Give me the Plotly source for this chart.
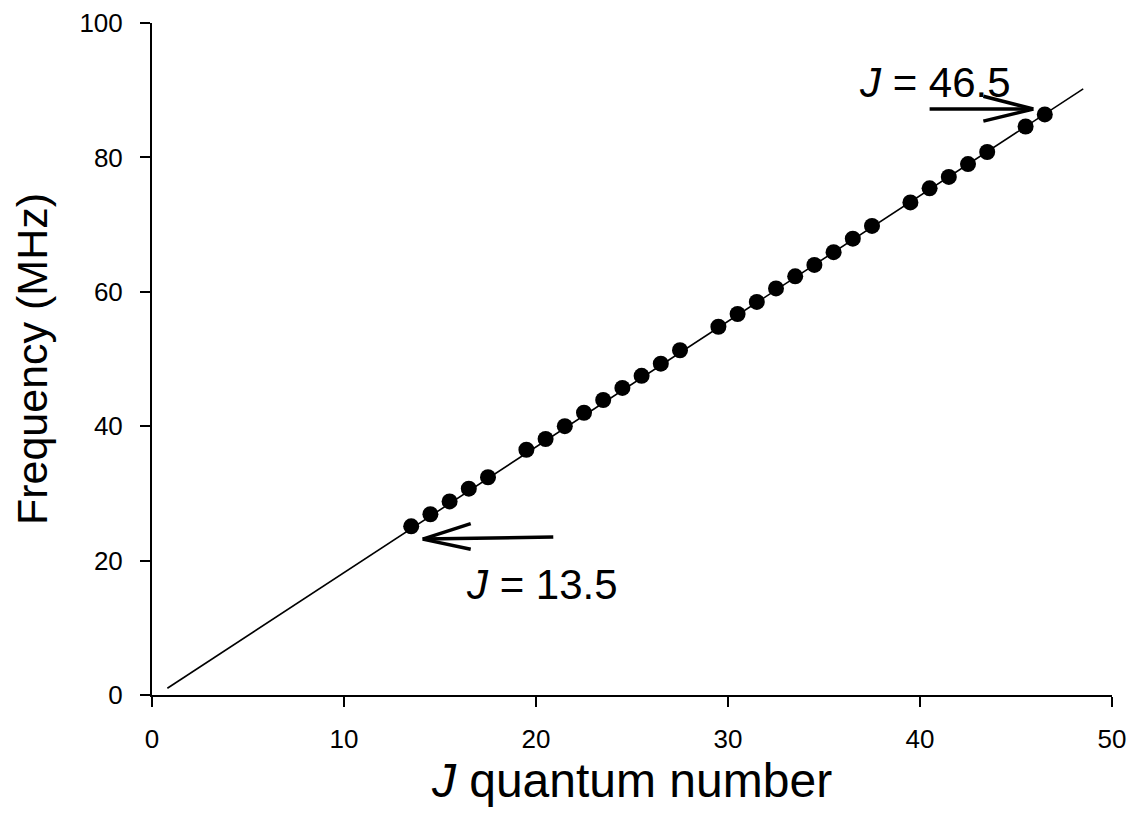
import plotly.graph_objects as go

# Data
j_values = [13.5, 14.5, 15.5, 16.5, 17.5, 19.5, 20.5, 21.5, 22.5, 23.5, 24.5, 25.5,
            26.5, 27.5, 29.5, 30.5, 31.5, 32.5, 33.5, 34.5, 35.5, 36.5, 37.5,
            39.5, 40.5, 41.5, 42.5, 43.5, 45.5, 46.5]
freq_mhz = [25.1, 26.9, 28.8, 30.7, 32.4, 36.5, 38.1, 40.0, 42.0, 43.9, 45.7, 47.5,
            49.3, 51.3, 54.8, 56.7, 58.5, 60.5, 62.3, 64.0, 65.9, 67.9, 69.8,
            73.3, 75.4, 77.1, 79.0, 80.8, 84.6, 86.4]
fit_j = [0.8, 48.5]
fit_freq = [1.0, 90.2]

x_ticks = [0, 10, 20, 30, 40, 50]
y_ticks = [0, 20, 40, 60, 80, 100]

FONT = "Arial, 'Liberation Sans', Helvetica, sans-serif"

fig = go.Figure()
fig.add_trace(go.Scatter(x=fit_j, y=fit_freq, mode="lines",
                         line=dict(color="black", width=1.6), hoverinfo="skip",
                         showlegend=False))
fig.add_trace(go.Scatter(x=j_values, y=freq_mhz, mode="markers",
                         marker=dict(color="black", size=16, line=dict(width=0)),
                         showlegend=False))

# Open (V-shaped) arrows drawn as line segments
arrows = [
    dict(start=(20.9, 23.5), tip=(14.1, 23.2), h1=(16.6, 25.5), h2=(16.6, 21.7)),
    dict(start=(40.5, 87.2), tip=(45.9, 87.2), h1=(43.3, 89.1), h2=(43.3, 85.4)),
]
for a in arrows:
    for p in (a["start"], a["h1"], a["h2"]):
        fig.add_shape(type="line", xref="x", yref="y",
                      x0=p[0], y0=p[1], x1=a["tip"][0], y1=a["tip"][1],
                      line=dict(color="black", width=3.5))

fig.add_annotation(x=20.3, y=16.4, xref="x", yref="y", text="<i>J</i> = 13.5",
                   showarrow=False, font=dict(family=FONT, size=42, color="black"),
                   xanchor="center", yanchor="middle")
fig.add_annotation(x=40.8, y=91.1, xref="x", yref="y", text="<i>J</i> = 46.5",
                   showarrow=False, font=dict(family=FONT, size=42, color="black"),
                   xanchor="center", yanchor="middle")

axis_common = dict(showline=True, linecolor="black", linewidth=2,
                   ticks="outside", tickcolor="black", tickwidth=2, ticklen=10,
                   showgrid=False, zeroline=False, automargin=False,
                   tickfont=dict(family=FONT, size=26, color="black"))

fig.update_layout(
    width=1134, height=834,
    margin=dict(l=152, r=22, t=23, b=139),
    paper_bgcolor="white", plot_bgcolor="white",
    xaxis=dict(range=[0, 50], tickvals=x_ticks, ticklabelstandoff=10,
               title=dict(text="<i>J</i> quantum number", standoff=6,
                          font=dict(family=FONT, size=48, color="black")),
               **axis_common),
    yaxis=dict(range=[0, 100], tickvals=y_ticks, ticklabelstandoff=12,
               title=dict(text="Frequency (MHz)", standoff=18,
                          font=dict(family=FONT, size=43, color="black")),
               **axis_common),
)

fig.write_html("out.html")
